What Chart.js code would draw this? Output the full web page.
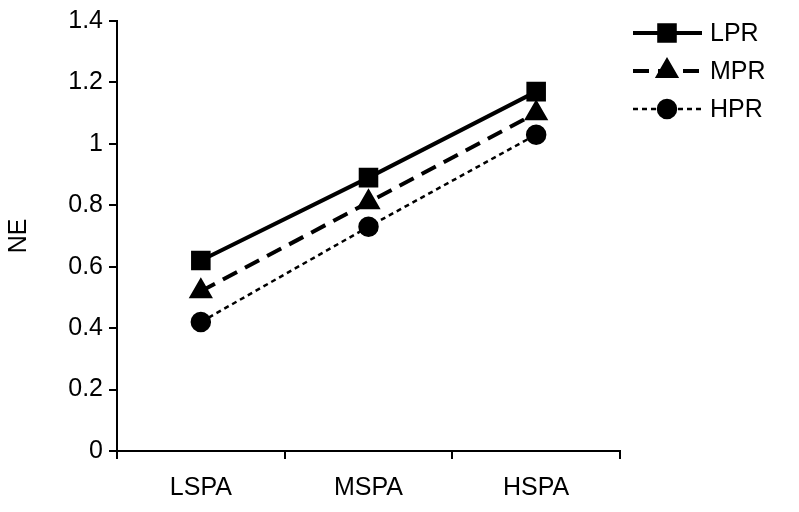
<!DOCTYPE html>
<html>
<head>
<meta charset="utf-8">
<script src="https://cdn.jsdelivr.net/npm/chart.js@4"></script>
<style>
  body { margin: 0; background: #fff; }
  #wrap { width: 799px; height: 512px; }
</style>
</head>
<body>
<div id="wrap"><canvas id="chart"></canvas></div>
<script>
const categories = ['LSPA', 'MSPA', 'HSPA'];
const lpr = [0.62, 0.89, 1.17];
const mpr = [0.52, 0.81, 1.10];
const hpr = [0.42, 0.73, 1.03];
const yTicks = [0, 0.2, 0.4, 0.6, 0.8, 1, 1.2, 1.4];

const font = "'Liberation Sans', Arial, sans-serif";

// draws legend entries (line + marker + label) at the right side
const sideLegend = {
    id: 'sideLegend',
    afterDraw(chart) {
        const ctx = chart.ctx;
        chart.data.datasets.forEach(function(ds, i) {
            const y = 33 + i * 38;
            ctx.save();
            ctx.strokeStyle = '#000';
            ctx.fillStyle = '#000';
            ctx.lineWidth = ds.borderWidth;
            ctx.setLineDash(ds.borderDash || []);
            ctx.beginPath();
            ctx.moveTo(633, y);
            ctx.lineTo(702, y);
            ctx.stroke();
            ctx.setLineDash([]);
            Chart.helpers.drawPoint(ctx, { pointStyle: ds.pointStyle, radius: ds.pointRadius, rotation: 0, borderWidth: 1 }, 667, y);
            ctx.font = '25px ' + font;
            ctx.textBaseline = 'middle';
            ctx.fillText(ds.label, 710, y + 1);
            ctx.restore();
        });
    }
};

new Chart(document.getElementById('chart'), {
    type: 'line',
    data: {
        labels: categories,
        datasets: [
            { label: 'LPR', data: lpr, borderColor: '#000', backgroundColor: '#000', borderWidth: 4,
              pointStyle: 'rect', pointRadius: 11 },
            { label: 'MPR', data: mpr, borderColor: '#000', backgroundColor: '#000', borderWidth: 4,
              borderDash: [16, 9], pointStyle: 'triangle', pointRadius: 10 },
            { label: 'HPR', data: hpr, borderColor: '#000', backgroundColor: '#000', borderWidth: 2.5,
              borderDash: [5, 4], pointStyle: 'circle', pointRadius: 9 }
        ]
    },
    options: {
        responsive: true,
        maintainAspectRatio: false,
        animation: false,
        layout: { padding: { top: 14, right: 179, left: 0, bottom: 0 } },
        plugins: { legend: { display: false }, tooltip: { enabled: false } },
        scales: {
            x: {
                offset: true,
                grid: { drawOnChartArea: false, drawTicks: true, tickLength: 8, color: '#000', lineWidth: 2, offset: true },
                border: { color: '#000', width: 2 },
                ticks: { color: '#000', font: { family: font, size: 25 }, padding: 14 },
                afterFit: function(s) { s.height = 61; }
            },
            y: {
                min: 0, max: 1.4,
                afterBuildTicks: function(s) { s.ticks = yTicks.map(v => ({ value: v })); },
                grid: { drawOnChartArea: false, drawTicks: true, tickLength: 8, color: '#000', lineWidth: 2 },
                border: { color: '#000', width: 2 },
                ticks: { color: '#000', font: { family: font, size: 25 }, padding: 6,
                         callback: function(v) { return String(Math.round(v * 10) / 10); } },
                title: { display: true, text: 'NE', color: '#000', font: { family: font, size: 25 } },
                afterFit: function(s) { s.width = 117; }
            }
        }
    },
    plugins: [sideLegend]
});
</script>
</body>
</html>
